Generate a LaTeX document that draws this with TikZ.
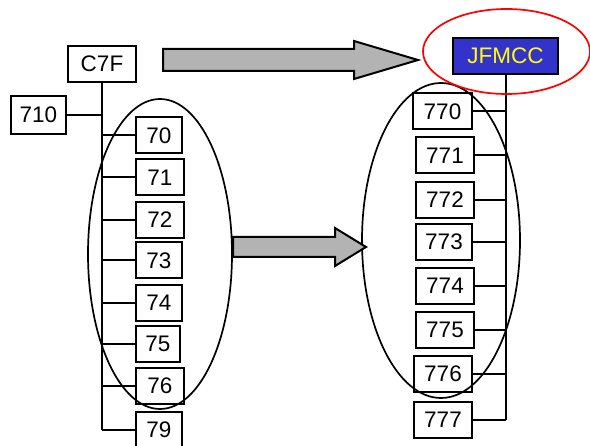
\documentclass[tikz,border=0pt]{standalone}
\usepackage{fontspec}
\setmainfont{Liberation Sans}
\usepackage{tikz}
\usepackage{xcolor}
\definecolor{jblue}{RGB}{51, 51, 204}
\definecolor{jyellow}{RGB}{255, 255, 0}
\definecolor{jred}{RGB}{255, 0, 0}
\definecolor{arrowgray}{RGB}{179, 179, 179}
\tikzset{unit/.style = {draw, fill = white, inner sep = 0pt, minimum height = 36pt, font = \fontsize{22.5}{27}\selectfont}}

\begin{document}
\begin{tikzpicture}[line width = 2pt, x = 1pt, y = -1pt]
\useasboundingbox (0,0) rectangle (590,446);
% left tree
\node[unit, minimum width = 68pt] (c7f) at (102,64) {C7F};
\node[unit, minimum width = 55pt, minimum height = 38pt] (u710) at (38.5,115) {710};
\foreach \n/\x/\y/\w in {70/159/135.5/46, 71/160/177.5/48, 72/160/220/48, 73/159/260.5/46, 74/159/303/46, 75/158/344/44, 76/160/386/48, 79/159/430/46}
{
\node[unit, minimum width = \w pt] (u\n) at (\x,\y) {\n};
\draw (u\n.west) -- (u\n.west -| c7f.south);
}
\draw (c7f.south) -- (u79.west -| c7f.south);
\draw (u710.east) -- (u710.east -| c7f.south);
% right tree
\node[unit, fill = jblue, text = jyellow, minimum width = 105pt] (jfmcc) at (505.5,56) {JFMCC};
\foreach \n/\x/\y/\w in {770/442.5/111.5/59, 771/445/155.5/58, 772/445/200/58, 773/444/242/56, 774/445/286/58, 775/445/330/58, 776/443/374/58, 777/443/420/58}
{
\node[unit, minimum width = \w pt] (u\n) at (\x,\y) {\n};
\draw (u\n.east) -- (u\n.east -| jfmcc.south);
}
\draw (jfmcc.south) -- (u777.east -| jfmcc.south);
% groups
\draw[line width = 1.7pt] (160,254) ellipse (72pt and 155pt);
\draw[line width = 1.7pt] (441,240.5) ellipse (79pt and 157.5pt);
\draw[line width = 1.7pt, jred] (506.5,51.5) ellipse (83.5pt and 42.5pt);
% block arrows
\draw[fill = arrowgray, line join = miter] (163,49) -- (354,49) -- (354,41) -- (418,60) -- (354,79) -- (354,71) -- (163,71) -- cycle;
\draw[fill = arrowgray, line join = miter] (233,237) -- (335,237) -- (335,228) -- (366,247) -- (335,266) -- (335,257) -- (233,257) -- cycle;
\end{tikzpicture}
\end{document}
